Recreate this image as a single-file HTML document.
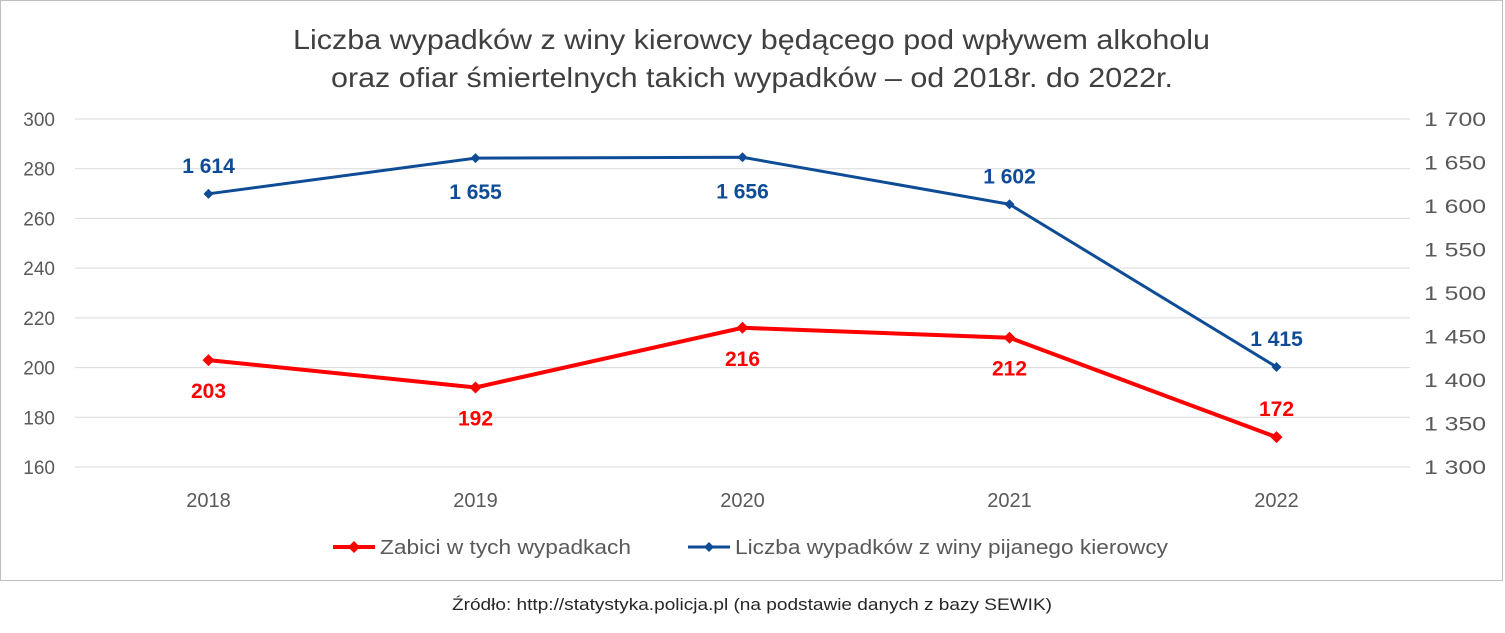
<!DOCTYPE html>
<html><head><meta charset="utf-8"><style>
body{margin:0;background:#fff;font-family:"Liberation Sans",sans-serif}
svg text{font-family:"Liberation Sans","DejaVu Sans",sans-serif}
</style></head><body>
<svg id="c" width="1505" height="628" xmlns="http://www.w3.org/2000/svg">
<rect x="0.5" y="0.5" width="1502" height="580" fill="#fff" stroke="#bfbfbf"/>
<text x="293" y="49" textLength="917" lengthAdjust="spacingAndGlyphs" font-size="28" fill="#404040">Liczba wypadków z winy kierowcy będącego pod wpływem alkoholu</text>
<text x="331" y="87" textLength="842" lengthAdjust="spacingAndGlyphs" font-size="28" fill="#404040">oraz ofiar śmiertelnych takich wypadków – od 2018r. do 2022r.</text>
<g id="grid"></g><g id="axes"></g><g id="series"></g>
<g>
<line x1="333" y1="547" x2="375" y2="547" stroke="#ff0000" stroke-width="4"/>
<path d="M354 541 L360 547 L354 553 L348 547 Z" fill="#ff0000"/>
<text x="380" y="554" textLength="251" lengthAdjust="spacingAndGlyphs" font-size="20" fill="#595959">Zabici w tych wypadkach</text>
<line x1="688" y1="547" x2="730" y2="547" stroke="#0f4c96" stroke-width="3"/>
<path d="M709 542 L714 547 L709 552 L704 547 Z" fill="#0f4c96"/>
<text x="735" y="554" textLength="433" lengthAdjust="spacingAndGlyphs" font-size="20" fill="#595959">Liczba wypadków z winy pijanego kierowcy</text>
</g>
<text x="452" y="610" textLength="600" lengthAdjust="spacingAndGlyphs" font-size="17" fill="#262626">Źródło: http://statystyka.policja.pl (na podstawie danych z bazy SEWIK)</text>
</svg>
<script>
const years=["2018","2019","2020","2021","2022"];
const killed=[203,192,216,212,172];
const accidents=[1614,1655,1656,1602,1415];
const leftTicks=[160,180,200,220,240,260,280,300];
const rightTicks=[1300,1350,1400,1450,1500,1550,1600,1650,1700];
const killedLabelPos=["below","below","below","below","above"];
const accLabelPos=["above","below","below","above","above"];
const NS="http://www.w3.org/2000/svg";
const X0=75,X1=1410,YT=119,YB=467;
const x=i=>X0+(X1-X0)/years.length*(i+0.5);
const yL=v=>YB-(v-160)/(300-160)*(YB-YT);
const yR=v=>YB-(v-1300)/(1700-1300)*(YB-YT);
function mk(t,a,p){const e=document.createElementNS(NS,t);for(const k in a)e.setAttribute(k,a[k]);p.appendChild(e);return e;}
const fmt=v=>{const s=String(v);return s.length>3?s.slice(0,-3)+" "+s.slice(-3):s;};
const grid=document.getElementById('grid'),axes=document.getElementById('axes'),ser=document.getElementById('series');
leftTicks.forEach(v=>{const l=mk('line',{x1:X0,x2:X1,y1:yL(v),y2:yL(v),stroke:'#d9d9d9'},grid);


const t=mk('text',{x:55,y:yL(v)+7,'text-anchor':'end','font-size':19,fill:'#595959'},axes);t.textContent=v;

});
rightTicks.forEach(v=>{const t=mk('text',{x:1424,y:yR(v)+7,'font-size':19,fill:'#595959',textLength:62,lengthAdjust:'spacingAndGlyphs'},axes);t.textContent=fmt(v);

});
years.forEach((yy,i)=>{const t=mk('text',{x:x(i),y:507,'text-anchor':'middle','font-size':20,fill:'#595959'},axes);t.textContent=yy;

});
function series(vals,yf,col,w,r,pos,name,lblOff){
const p=mk('polyline',{points:vals.map((v,i)=>x(i)+','+yf(v)).join(' '),fill:'none',stroke:col,'stroke-width':w},ser);


vals.forEach((v,i)=>{const cx=x(i),cy=yf(v);
const m=mk('path',{d:`M${cx} ${cy-r}L${cx+r} ${cy}L${cx} ${cy+r}L${cx-r} ${cy}Z`,fill:col},ser);


const ly=pos[i]=="above"?cy-lblOff[0]:cy+lblOff[1];
const t=mk('text',{x:cx,y:ly,'text-anchor':'middle','font-size':21,'font-weight':'bold',fill:col},ser);t.textContent=fmt(v);

});}
series(killed,yL,'#ff0000',4,6,killedLabelPos,'killed',[21,38]);
series(accidents,yR,'#0f4c96',3,5,accLabelPos,'accidents',[21,41]);
</script>
</body></html>
